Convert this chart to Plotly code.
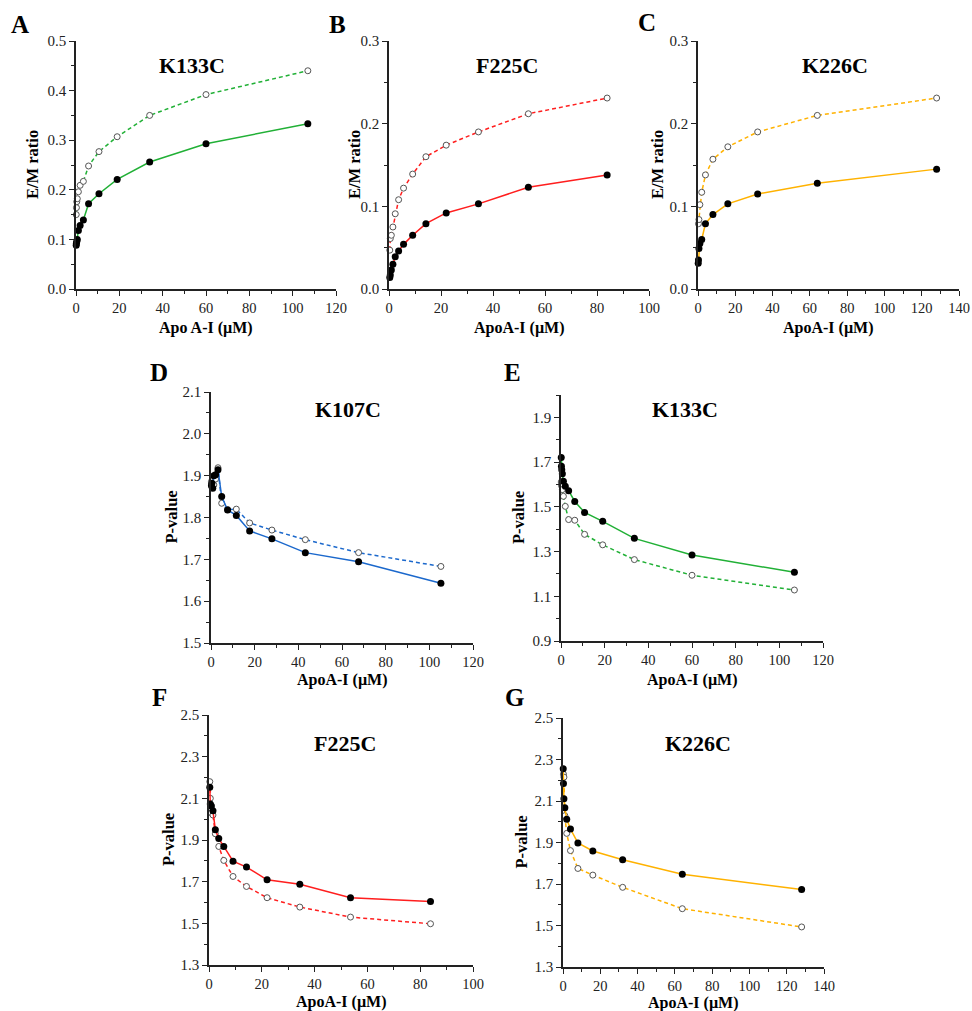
import plotly.graph_objects as go

W, H = 972, 1011

# ---- data ----
# A: K133C E/M ratio
a_x = [0.1, 0.2, 0.35, 0.6, 1.1, 1.9, 3.4, 5.8, 10.6, 19, 34, 60, 107]
a_open = [0.150, 0.164, 0.176, 0.182, 0.196, 0.209, 0.217, 0.248, 0.277, 0.307, 0.350, 0.392, 0.440]
a_fill = [0.088, 0.092, 0.096, 0.100, 0.118, 0.128, 0.139, 0.172, 0.192, 0.221, 0.256, 0.293, 0.333]

# B: F225C E/M ratio
b_x = [0.3, 0.5, 0.9, 1.5, 2.4, 3.7, 5.6, 9.1, 14.2, 22, 34.4, 53.6, 83.9]
b_open = [0.047, 0.061, 0.065, 0.075, 0.091, 0.108, 0.122, 0.139, 0.160, 0.174, 0.190, 0.212, 0.231]
b_fill = [0.014, 0.017, 0.023, 0.030, 0.039, 0.046, 0.054, 0.065, 0.079, 0.092, 0.103, 0.123, 0.138]

# C: K226C E/M ratio
c_x_open = [0.25, 0.5, 1, 2, 4, 8, 16, 32, 64, 128]
c_open = [0.079, 0.084, 0.102, 0.117, 0.138, 0.157, 0.172, 0.190, 0.210, 0.231]
c_x_fill = [0.125, 0.25, 0.5, 1, 2, 4, 8, 16, 32, 64, 128]
c_fill = [0.031, 0.035, 0.049, 0.055, 0.060, 0.079, 0.090, 0.103, 0.115, 0.128, 0.145]

# D: K107C P-value
d_x = [0.2, 0.4, 0.8, 1.3, 2.1, 3.2, 4.9, 7.6, 11.6, 17.7, 27.9, 43.2, 67.6, 105.3]
d_fill = [1.876, 1.882, 1.870, 1.900, 1.902, 1.914, 1.850, 1.818, 1.805, 1.768, 1.749, 1.716, 1.694, 1.643]
d_open = [1.886, 1.880, 1.890, 1.878, 1.892, 1.919, 1.834, 1.819, 1.820, 1.787, 1.770, 1.747, 1.716, 1.683]

# E: K133C P-value
e_x = [0.11, 0.2, 0.35, 0.62, 1.1, 1.97, 3.5, 6.3, 10.8, 19.1, 33.6, 60, 106.9]
e_fill = [1.721, 1.681, 1.666, 1.648, 1.614, 1.592, 1.572, 1.524, 1.475, 1.435, 1.359, 1.285, 1.207]
e_open = [1.611, 1.600, 1.592, 1.577, 1.547, 1.502, 1.443, 1.440, 1.377, 1.330, 1.264, 1.194, 1.128]

# F: F225C P-value
f_x = [0.3, 0.5, 0.9, 1.5, 2.4, 3.7, 5.6, 9.1, 14.2, 22, 34.4, 53.6, 83.9]
f_fill = [2.153, 2.073, 2.063, 2.040, 1.949, 1.907, 1.869, 1.798, 1.770, 1.709, 1.688, 1.623, 1.605]
f_open = [2.180, 2.100, 2.030, 2.020, 1.930, 1.869, 1.802, 1.725, 1.677, 1.623, 1.578, 1.530, 1.498]

# G: K226C P-value
g_x_fill = [0.125, 0.25, 0.5, 1, 2, 4, 8, 16, 32, 64, 128]
g_fill = [2.256, 2.184, 2.111, 2.068, 2.012, 1.965, 1.898, 1.859, 1.817, 1.747, 1.673]
g_x_open = [0.25, 0.5, 1, 2, 4, 8, 16, 32, 64, 128]
g_open = [2.229, 2.215, 2.029, 1.944, 1.861, 1.775, 1.743, 1.684, 1.581, 1.493]

GREEN = "#21b036"
RED = "#ff1e1e"
ORANGE = "#ffb200"
BLUE = "#1b68cc"
FONT = "Liberation Serif"

# one dict per panel; px/py are the plot box in pixels, *pos are text positions in pixels
panels = [
    dict(letter="A", title="K133C", color=GREEN, xo=a_x, yo=a_open, xf=a_x, yf=a_fill,
         px=(76, 336), py=(41, 289), xr=(0, 120), yr=(0, 0.5), ydt=0.1, ymin=0.05, y0=0,
         xlab="Apo A-I (µM)", ylab="E/M ratio", lpos=(20, 24), tpos=(192, 65), xlab_y=328, ylab_x=33),
    dict(letter="B", title="F225C", color=RED, xo=b_x, yo=b_open, xf=b_x, yf=b_fill,
         px=(389, 649), py=(41, 289), xr=(0, 100), yr=(0, 0.3), ydt=0.1, ymin=0.05, y0=0,
         xlab="ApoA-I (µM)", ylab="E/M ratio", lpos=(337, 24), tpos=(507, 65), xlab_y=328, ylab_x=355),
    dict(letter="C", title="K226C", color=ORANGE, xo=c_x_open, yo=c_open, xf=c_x_fill, yf=c_fill,
         px=(698, 959), py=(41, 289), xr=(0, 140), yr=(0, 0.3), ydt=0.1, ymin=0.05, y0=0,
         xlab="ApoA-I (µM)", ylab="E/M ratio", lpos=(647, 22), tpos=(835, 65), xlab_y=328, ylab_x=658),
    dict(letter="D", title="K107C", color=BLUE, xo=d_x, yo=d_open, xf=d_x, yf=d_fill,
         px=(211, 473), py=(392, 643), xr=(0, 120), yr=(1.5, 2.1), ydt=0.1, ymin=0.05, y0=1.5,
         xlab="ApoA-I (µM)", ylab="P-value", lpos=(159, 372), tpos=(348, 410), xlab_y=680, ylab_x=171),
    dict(letter="E", title="K133C", color=GREEN, xo=e_x, yo=e_open, xf=e_x, yf=e_fill,
         px=(561, 823), py=(395, 641), xr=(0, 120), yr=(0.9, 2.0), ydt=0.2, ymin=0.1, y0=0.9,
         xlab="ApoA-I (µM)", ylab="P-value", lpos=(512, 372), tpos=(685, 410), xlab_y=680, ylab_x=518),
    dict(letter="F", title="F225C", color=RED, xo=f_x, yo=f_open, xf=f_x, yf=f_fill,
         px=(209, 473), py=(715, 965), xr=(0, 100), yr=(1.3, 2.5), ydt=0.2, ymin=0.1, y0=1.3,
         xlab="ApoA-I (µM)", ylab="P-value", lpos=(159, 697), tpos=(345, 743), xlab_y=1002, ylab_x=168),
    dict(letter="G", title="K226C", color=ORANGE, xo=g_x_open, yo=g_open, xf=g_x_fill, yf=g_fill,
         px=(563, 824), py=(718, 967), xr=(0, 140), yr=(1.3, 2.5), ydt=0.2, ymin=0.1, y0=1.3,
         xlab="ApoA-I (µM)", ylab="P-value", lpos=(514, 697), tpos=(698, 743), xlab_y=1003, ylab_x=521),
]

fig = go.Figure()
annos = []
layout = {}


def label(text, x, y, size, angle=0):
    # text centred on a pixel position
    return dict(text=text, x=x / W, y=1 - y / H, xref="paper", yref="paper",
                xanchor="center", yanchor="middle", showarrow=False, textangle=angle,
                font=dict(family=FONT, size=size, color="black"))


for i, p in enumerate(panels):
    n = "" if i == 0 else str(i + 1)
    xa, ya = "x" + n, "y" + n

    # dashed line with open circles
    fig.add_trace(go.Scatter(x=p["xo"], y=p["yo"], xaxis=xa, yaxis=ya, mode="lines+markers",
                             line=dict(color=p["color"], width=1.5, dash="4px,3px"),
                             marker=dict(symbol="circle", size=6, color="white",
                                         line=dict(color="#555555", width=1)),
                             cliponaxis=False, showlegend=False))
    # solid line with filled circles
    fig.add_trace(go.Scatter(x=p["xf"], y=p["yf"], xaxis=xa, yaxis=ya, mode="lines+markers",
                             line=dict(color=p["color"], width=1.5),
                             marker=dict(symbol="circle", size=7, color="black"),
                             cliponaxis=False, showlegend=False))

    layout["xaxis" + n] = dict(
        domain=[p["px"][0] / W, p["px"][1] / W], anchor=ya, range=list(p["xr"]),
        dtick=20, tick0=0, ticks="outside", ticklen=5, tickwidth=1.2, tickcolor="#222",
        minor=dict(dtick=10, tick0=0, ticks="outside", ticklen=3, tickcolor="#222"),
        showline=True, linecolor="#222", linewidth=1.5, showgrid=False, zeroline=False,
        automargin=False, tickfont=dict(family=FONT, size=14.5, color="#222"))
    layout["yaxis" + n] = dict(
        domain=[1 - p["py"][1] / H, 1 - p["py"][0] / H], anchor=xa, range=list(p["yr"]),
        dtick=p["ydt"], tick0=p["y0"], tickformat=".1f", ticks="outside", ticklen=5,
        tickwidth=1.2, tickcolor="#222",
        minor=dict(dtick=p["ymin"], tick0=p["y0"], ticks="outside", ticklen=3, tickcolor="#222"),
        showline=True, linecolor="#222", linewidth=1.5, showgrid=False, zeroline=False,
        automargin=False, tickfont=dict(family=FONT, size=15, color="#222"))

    annos.append(label("<b>" + p["letter"] + "</b>", p["lpos"][0], p["lpos"][1], 25))
    annos.append(label("<b>" + p["title"] + "</b>", p["tpos"][0], p["tpos"][1], 22))
    annos.append(label("<b>" + p["xlab"] + "</b>", (p["px"][0] + p["px"][1]) / 2, p["xlab_y"], 16))
    annos.append(label("<b>" + p["ylab"] + "</b>", p["ylab_x"], (p["py"][0] + p["py"][1]) / 2,
                       16.5, angle=-90))

fig.update_layout(**layout)
fig.update_layout(width=W, height=H, margin=dict(l=0, r=0, t=0, b=0, autoexpand=False),
                  paper_bgcolor="white", plot_bgcolor="white", annotations=annos)

# drop the default page margin so the figure sits at 0,0 in the window
fig.write_html("out.html", config={"displayModeBar": False},
               post_script="document.body.style.margin='0';")
